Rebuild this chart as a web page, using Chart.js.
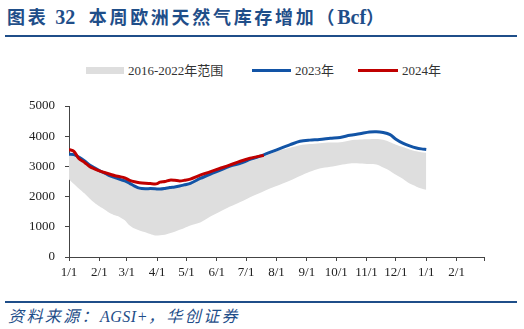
<!DOCTYPE html>
<html>
<head>
<meta charset="utf-8">
<script src="https://cdn.jsdelivr.net/npm/chart.js@4/dist/chart.umd.min.js"></script>
<style>
  html,body{margin:0;padding:0;background:#fff;}
  body{width:524px;height:329px;position:relative;overflow:hidden;}
  #title{position:absolute;left:7px;top:3px;font-family:"Noto Sans CJK SC",sans-serif;font-weight:bold;font-size:18px;color:#1f4e89;letter-spacing:2.7px;white-space:nowrap;}
  #title .n{font-family:"Liberation Serif",serif;font-weight:bold;font-size:20px;letter-spacing:0;}
  .rule{position:absolute;left:5px;width:512px;height:2px;background:#1f4e89;}
  #legend{position:absolute;top:62px;left:0;width:524px;height:18px;font-family:"Liberation Serif","Noto Sans CJK SC",serif;font-size:13px;color:#333;}
  .sw{position:absolute;}
  .lt{position:absolute;top:0;line-height:17px;white-space:nowrap;}
  #src{position:absolute;left:8px;top:303px;font-family:"Liberation Serif","Noto Sans CJK SC",serif;font-style:italic;font-size:16px;letter-spacing:2.4px;color:#1f4e89;white-space:nowrap;}
  #src .l{letter-spacing:0.5px;}
  canvas{position:absolute;left:0;top:0;}
</style>
</head>
<body>
<div id="title">图表 <span class="n">32</span>&nbsp; 本周欧洲天然气库存增加（<span class="n">Bcf</span>）</div>
<div class="rule" style="top:35px"></div>
<div id="legend">
  <div class="sw" style="left:86px;top:5px;width:38px;height:7px;background:#dedede"></div>
  <div class="lt" style="left:128px">2016-2022年范围</div>
  <div class="sw" style="left:252px;top:7px;width:39px;height:3px;background:#1254a6"></div>
  <div class="lt" style="left:295px">2023年</div>
  <div class="sw" style="left:358px;top:7px;width:40px;height:3px;background:#c00000"></div>
  <div class="lt" style="left:402px">2024年</div>
</div>
<div class="rule" style="top:301px"></div>
<div id="src">资料来源：<span class="l">AGSI+</span>，华创证券</div>
<canvas id="c" width="524" height="329"></canvas>
<script>
// day-of-year positions (0 = 1/1)
const bandDays = [0,5,10,16,21,26,31,37,42,47,52,57,62,67,72,78,83,88,93,98,103,108,113,118,124,134,144,154,164,175,185,199,208,216,226,236,246,256,267,277,287,297,307,314,321,328,334,341,348,355,360,365];
const range2016_2022Low = [2570,2420,2270,2100,1940,1800,1680,1560,1450,1380,1320,1220,1040,940,880,820,760,710,720,740,790,840,900,960,1040,1140,1330,1500,1660,1820,1980,2180,2300,2400,2530,2680,2820,2930,2990,3050,3100,3100,3080,3060,2960,2850,2720,2590,2430,2330,2270,2230];
const range2016_2022High = [3380,3370,3280,3150,3020,2920,2830,2740,2660,2600,2540,2490,2410,2320,2250,2230,2235,2230,2220,2240,2270,2290,2320,2360,2410,2570,2710,2840,2960,3050,3170,3320,3440,3540,3620,3700,3740,3770,3790,3800,3860,3890,3900,3905,3880,3800,3720,3640,3560,3500,3470,3450];
const series2023 = [3400,3390,3310,3180,3050,2950,2860,2770,2690,2630,2570,2520,2440,2350,2280,2260,2265,2260,2250,2270,2300,2320,2350,2390,2440,2600,2740,2870,3000,3100,3230,3380,3500,3600,3720,3830,3870,3890,3930,3960,4030,4080,4140,4150,4120,4050,3900,3770,3680,3610,3580,3560];
const days2024 = [0,5,10,16,21,26,31,37,42,47,52,57,62,67,72,78,83,88,90,93,98,103,108,113,118,124,134,144,154,164,175,185,199];
const series2024 = [3560,3500,3260,3130,3000,2920,2850,2790,2740,2690,2660,2620,2540,2490,2460,2440,2430,2420,2430,2480,2500,2545,2540,2520,2540,2580,2710,2820,2930,3040,3170,3270,3370];
const tickDays = [0,31,59,90,120,151,181,212,243,273,304,334,365,396,424];
const tickLabels = ['1/1','2/1','3/1','4/1','5/1','6/1','7/1','8/1','9/1','10/1','11/1','12/1','1/1','2/1',''];
const yTicks = [0,1000,2000,3000,4000,5000];

const pts = (xs, ys) => xs.map((x, i) => ({x: x, y: ys[i]}));

new Chart(document.getElementById('c'), {
  type: 'line',
  data: {
    datasets: [
      {label:'2024年', data: pts(days2024, series2024), borderColor:'#c00000', borderWidth:3, pointRadius:0, fill:false, tension:0.3},
      {label:'2023年', data: pts(bandDays, series2023), borderColor:'#1254a6', borderWidth:3, pointRadius:0, fill:false, tension:0.3},
      {label:'2016-2022年范围', data: pts(bandDays, range2016_2022High), borderWidth:0, borderColor:'rgba(0,0,0,0)', backgroundColor:'#dedede', pointRadius:0, fill:3, tension:0.3},
      {label:'low', data: pts(bandDays, range2016_2022Low), borderWidth:0, borderColor:'rgba(0,0,0,0)', pointRadius:0, fill:false, tension:0.3}
    ]
  },
  options: {
    responsive:false, animation:false, devicePixelRatio:1,
    layout:{padding:{top:106,right:40,left:0,bottom:0}},
    plugins:{legend:{display:false}, tooltip:{enabled:false}},
    scales:{
      x:{type:'linear', min:0, max:424,
        afterBuildTicks: s => { s.ticks = tickDays.map(v => ({value:v})); },
        afterFit: s => { s.height = 72; },
        ticks:{autoSkip:false, maxRotation:0, padding:4, color:'#222',
          font:{family:'"Liberation Serif", serif', size:13},
          callback:(v) => { const i = tickDays.indexOf(v); return i >= 0 ? tickLabels[i] : ''; }},
        grid:{display:true, drawOnChartArea:false, drawTicks:true, tickLength:4, color:'#444'},
        border:{display:true, color:'#444', width:1}
      },
      y:{min:0, max:5000,
        afterBuildTicks: s => { s.ticks = yTicks.map(v => ({value:v})); },
        afterFit: s => { s.width = 69; },
        ticks:{padding:10, color:'#222', font:{family:'"Liberation Serif", serif', size:13},
          callback:(v) => String(v)},
        grid:{display:true, drawOnChartArea:false, drawTicks:true, tickLength:4, color:'#444'},
        border:{display:true, color:'#444', width:1}
      }
    }
  }
});
</script>
</body>
</html>
